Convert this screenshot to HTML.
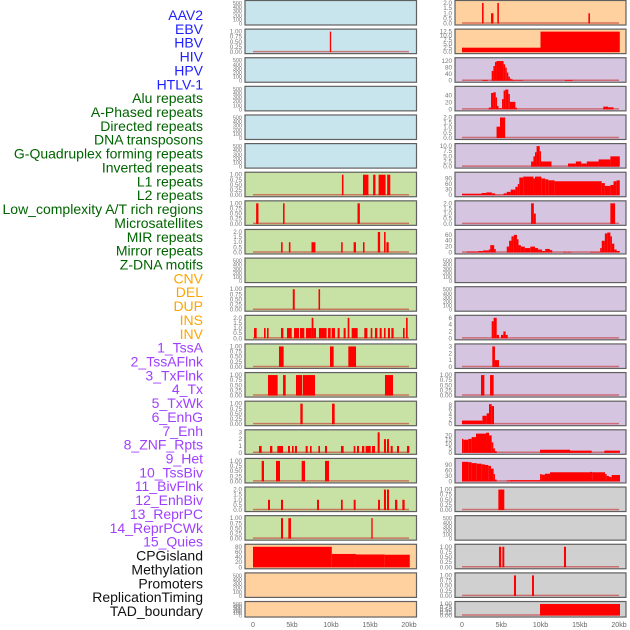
<!DOCTYPE html>
<html><head><meta charset="utf-8"><style>
html,body{margin:0;padding:0;background:#fff;}
svg{display:block;font-family:"Liberation Sans",sans-serif;}
</style></head><body>
<svg id="chart" width="630" height="630" viewBox="0 0 630 630" xmlns="http://www.w3.org/2000/svg">
<g id="labels"></g>
<g id="panels"></g>
<g id="xaxes"></g>
</svg>
<script>
const trackLabels = ["AAV2","EBV","HBV","HIV","HPV","HTLV-1","Alu repeats","A-Phased repeats","Directed repeats","DNA transposons","G-Quadruplex forming repeats","Inverted repeats","L1 repeats","L2 repeats","Low_complexity A/T rich regions","Microsatellites","MIR repeats","Mirror repeats","Z-DNA motifs","CNV","DEL","DUP","INS","INV","1_TssA","2_TssAFlnk","3_TxFlnk","4_Tx","5_TxWk","6_EnhG","7_Enh","8_ZNF_Rpts","9_Het","10_TssBiv","11_BivFlnk","12_EnhBiv","13_ReprPC","14_ReprPCWk","15_Quies","CPGisland","Methylation","Promoters","ReplicationTiming","TAD_boundary"];
const labelGroups = [6,13,5,15,5];
const xTickValues = [0,5,10,15,20];
const xTickLabels = ["0","5kb","10kb","15kb","20kb"];

// bars: [startKb, endKb, value]
const L1bars = [[9.85,10.0,1]];
const L6bars = [[11.4,11.6,1],[14.1,14.8,1],[15.4,15.7,1],[16.1,17.0,1],[17.2,17.6,1]];
const L7bars = [[0.4,0.7,1],[3.85,4.05,1],[13.4,13.7,1]];
const L8bars = [[3.6,3.8,1],[4.6,4.8,1],[7.5,8.0,1],[11.3,11.5,1],[12.9,13.2,1],[14.1,14.3,1],[17.1,17.4,1],[16.0,16.3,2],[16.8,17.0,2]];
const L10bars = [[5.1,5.35,1],[8.4,8.6,1]];
const L11bars = [[0.13,0.47,1],[1.41,1.62,1],[1.79,2.0,1],[3.59,3.89,1],[4.36,4.96,1],[5.26,5.9,1],[6.03,6.58,1],[6.79,7.52,1],[7.52,7.74,2],[7.74,8.08,1],[8.46,9.44,1],[9.62,9.96,1],[10.09,10.51,1],[10.85,11.11,1],[11.62,11.88,1],[12.14,12.35,2],[12.65,13.42,1],[14.27,14.66,1],[15.09,15.3,1],[15.64,15.94,1],[16.24,16.5,1],[16.79,17.0,1],[17.3,17.56,1],[17.74,18.03,1],[19.23,19.44,1],[19.62,19.83,2]];
const L12bars = [[3.33,3.93,1],[9.87,10.34,1],[12.22,13.21,1]];
const L13bars = [[1.92,3.16,1],[3.85,4.19,1],[5.51,6.32,1],[6.41,7.95,1],[16.92,17.95,1]];
const L14bars = [[6.07,6.37,1],[10.13,10.47,1]];
const L15bars = [[0.77,1.11,1],[2.18,2.48,1],[3.12,3.85,1],[4.49,4.74,1],[5.0,5.21,1],[5.38,5.64,1],[6.75,7.01,1],[7.31,7.52,1],[8.38,8.59,1],[9.23,9.49,1],[11.28,11.62,1],[12.91,13.12,1],[13.33,13.59,1],[13.97,14.27,1],[14.44,15.09,1],[15.26,15.64,1],[17.65,17.91,1],[18.46,18.72,1],[19.74,20.04,1],[15.98,16.24,3],[16.79,17.05,2],[17.18,17.44,2]];
const L16bars = [[1.11,1.41,1],[2.95,3.46,1],[6.24,6.67,1],[9.23,9.74,1]];
const L17bars = [[1.92,2.18,1],[3.59,3.85,1],[8.21,8.46,1],[11.28,11.5,1],[12.91,13.16,1],[16.03,16.28,1],[18.21,18.5,1],[19.15,19.44,1],[16.79,17.05,2],[17.18,17.44,2]];
const L18bars = [[3.59,3.85,1],[4.53,4.87,1],[15.17,15.34,1]];
const L19bars = [[0,10.1,80],[10.1,13.2,52],[13.2,16.9,50],[16.9,20.1,49]];

const R0bars = [[2.55,2.75,2],[3.7,4.0,1],[4.5,4.7,2],[16.1,16.3,1]];
const R1bars = [[0,10,2.7],[10,20.1,12.5]];
const R2bars = [[2.6,3.3,5],[3.78,4.0,60],[4.0,4.2,90],[4.2,4.4,115],[4.4,5.3,120],[5.3,5.5,100],[5.5,5.7,80],[5.7,5.9,50],[5.9,6.1,25],[6.1,6.3,12],[6.3,6.5,8],[6.5,7.8,3],[13.1,14.1,5]];
const R3bars = [[3.4,3.7,5],[3.7,4.0,48],[4.0,4.3,50],[4.3,4.45,35],[4.45,4.65,10],[4.65,5.1,3],[5.1,5.3,30],[5.3,5.5,55],[5.5,5.9,58],[5.9,6.1,45],[6.1,6.8,22],[6.8,7.0,5],[18.0,18.6,8],[18.6,19.3,6]];
const R4bars = [[4.4,4.84,1.1],[4.84,5.5,2]];
const R5bars = [[8.8,9.1,2.5],[9.1,9.3,5],[9.3,9.5,7],[9.5,9.9,10],[9.9,10.06,7.5],[10.06,11.4,2.5],[13.5,14.5,1.5],[14.5,15.2,2.5],[15.2,15.9,1.5],[15.9,17.4,2.5],[17.4,18.9,3.5],[18.9,20.1,5]];
const R6bars = [[0,2.5,8],[2.5,3.1,12],[3.1,3.8,15],[3.8,4.2,10],[4.2,5.3,2],[5.3,5.7,10],[5.7,6.2,18],[6.2,6.8,30],[6.8,7.1,45],[7.1,7.3,60],[7.3,7.8,95],[7.8,9.1,100],[9.1,9.3,90],[9.3,10.1,100],[10.1,10.6,90],[10.6,11.0,85],[11.0,11.8,80],[11.8,17.8,75],[17.8,18.2,65],[18.2,18.9,50],[18.9,19.3,55],[19.3,19.7,75],[19.7,20.1,80]];
const R7bars = [[8.8,9.15,2],[9.15,9.4,1],[18.9,19.5,2]];
const R8bars = [[0.6,2.1,3],[2.1,2.7,5],[2.7,3.4,7],[3.4,3.6,10],[3.6,4.1,25],[4.1,4.3,12],[5.7,6.0,20],[6.0,6.3,40],[6.3,6.6,55],[6.6,7.0,60],[7.0,7.2,45],[7.2,7.5,25],[7.5,8.0,20],[8.0,8.7,15],[8.7,9.3,20],[9.3,9.7,15],[9.7,10.2,10],[10.2,10.6,5],[10.6,11.2,12],[11.2,11.5,8],[12.9,13.3,2],[13.4,13.9,2],[16.3,17.6,2],[17.6,17.8,15],[17.8,18.2,40],[18.2,18.5,65],[18.5,18.9,68],[18.9,19.1,55],[19.1,19.4,30],[19.4,19.7,10],[19.7,20.1,5]];
const R11bars = [[3.78,4.03,5],[4.03,4.42,6],[4.42,4.71,1],[4.97,5.27,1],[5.27,5.56,2],[5.56,5.82,1]];
const R12bars = [[3.86,4.2,3],[4.2,4.71,1]];
const R13bars = [[2.42,2.85,1],[3.57,4.03,1]];
const R14bars = [[0,2.6,1.5],[2.6,3.14,3.5],[3.14,3.44,4.5],[3.44,3.78,8.3],[3.78,4.08,7.5]];
const R15bars = [[0,0.17,16],[0.17,0.81,15],[0.81,1.23,16],[1.23,1.78,18],[1.78,3.06,22],[3.06,3.44,23],[3.44,3.78,20],[3.78,3.99,12],[3.99,4.2,5],[4.2,4.42,2],[9.94,13.76,3.5],[13.76,16.52,2.5],[18.13,20.13,2.5]];
const R16bars = [[0,0.81,107],[0.81,1.23,105],[1.23,1.87,100],[1.87,2.5,97],[2.5,2.93,93],[2.93,3.35,90],[3.35,3.69,85],[3.69,4.03,70],[4.03,4.2,40],[4.2,4.42,10],[5.69,6.11,5],[6.11,9.94,7],[9.94,10.15,40],[10.15,10.57,37],[10.57,11.21,42],[11.21,16.31,50],[16.31,16.6,52],[16.6,18.22,50],[18.22,18.43,40],[18.43,18.73,30],[18.73,19.07,25],[19.07,20.13,35]];
const R17bars = [[4.63,5.39,1]];
const R19bars = [[4.71,5.0,1],[5.14,5.39,1],[12.99,13.25,1]];
const R20bars = [[6.62,6.88,1],[8.92,9.17,1]];
const R21bars = [[9.94,20.13,1]];

const tk500 = [0,100,200,300,400,500];
const tk1 = [0,0.25,0.5,0.75,1];
const tk2 = [0,0.5,1,1.5,2];

const C = {blue:"#c8e4ec",green:"#c8e1a5",peach:"#ffd19f",purple:"#d5c5e1",gray:"#d0d0d0"};
// [bars, ymax, ticks, color]
const leftPanels = [
 [null,500,tk500,C.blue],[L1bars,1,tk1,C.blue],[null,500,tk500,C.blue],[null,500,tk500,C.blue],[null,500,tk500,C.blue],[null,500,tk500,C.blue],
 [L6bars,1,tk1,C.green],[L7bars,1,tk1,C.green],[L8bars,2,tk2,C.green],[null,500,tk500,C.green],[L10bars,1,tk1,C.green],[L11bars,2,tk2,C.green],[L12bars,1,tk1,C.green],[L13bars,1,tk1,C.green],[L14bars,1,tk1,C.green],[L15bars,3,[0,1,2,3],C.green],[L16bars,1,tk1,C.green],[L17bars,2,tk2,C.green],[L18bars,1,tk1,C.green],
 [L19bars,80,[0,20,40,60,80],C.peach],[null,500,tk500,C.peach],[null,500,tk500,C.peach]
];
const rightPanels = [
 [R0bars,2,tk2,C.peach],[R1bars,12.5,[0,2.5,5,7.5,10,12.5],C.peach],
 [R2bars,125,[0,40,80,120],C.purple],[R3bars,60,[0,20,40],C.purple],[R4bars,2,tk2,C.purple],[R5bars,10,[0,2.5,5,7.5,10],C.purple],[R6bars,110,[0,30,60,90],C.purple],[R7bars,2,tk2,C.purple],[R8bars,70,[0,20,40,60],C.purple],[null,500,tk500,C.purple],[null,500,tk500,C.purple],[R11bars,6,[0,2,4,6],C.purple],[R12bars,3,[0,1,2,3],C.purple],[R13bars,1,tk1,C.purple],[R14bars,8.5,[0,2,4,6,8],C.purple],[R15bars,23.5,[0,5,10,15,20],C.purple],[R16bars,112,[0,30,60,90],C.purple],
 [R17bars,1,tk1,C.gray],[null,500,tk500,C.gray],[R19bars,1,tk1,C.gray],[R20bars,1,tk1,C.gray],[R21bars,1,tk1,C.gray]
];

const NS="http://www.w3.org/2000/svg";
function mk(tag, attrs, parent){const e=document.createElementNS(NS,tag);for(const k in attrs)e.setAttribute(k,attrs[k]);parent.appendChild(e);return e;}
const labelColors=["#1f1fff","#006400","#ffa500","#a040ff","#111111"];
const gL=document.getElementById('labels');
let idx=0;
labelGroups.forEach((n,g)=>{for(let j=0;j<n;j++){const t=mk('text',{x:203,y:20+13.86*idx,'text-anchor':'end','font-size':14,fill:labelColors[g]},gL);


t.textContent=trackLabels[idx];idx++;}});

const cols=[{x0:245,x1:416.5,z:253,s:7.8,panels:leftPanels,name:'left'},{x0:455,x1:626,z:462,s:7.85,panels:rightPanels,name:'right'}];
const gP=document.getElementById('panels');
function fmt(v,ticks){
 let dec=0;
 if(ticks.some(t=>Math.abs(t*10-Math.round(t*10))>1e-9))dec=2;
 else if(ticks.some(t=>Math.abs(t-Math.round(t))>1e-9))dec=1;
 return dec?v.toFixed(dec):String(v);}
cols.forEach(col=>{
 const xs=kb=>col.z+kb*col.s;
 col.panels.forEach((p,i)=>{
  const top=i*28.62+0.5, h=(i===21?15.5:24.5);
  const [bars,ymax,ticks,color]=p;
  const y0=top+h-1.5, yt=top+2.5;
  const ys=v=>y0-(v/ymax)*(y0-yt);
  const g=mk('g',{},gP);
  
  
  mk('rect',{x:col.x0,y:top,width:col.x1-col.x0,height:h,fill:color,stroke:'#606060','stroke-width':1.2},g);
  ticks.forEach(t=>{const tx=mk('text',{x:col.x0-3,y:ys(t)+2,'text-anchor':'end','font-size':(ymax===500?5.5:6.3),fill:'#777'},g);
   
   
   tx.textContent=fmt(t,ticks);});
  if(bars){
   mk('line',{x1:xs(0),x2:xs(20),y1:y0-0.5,y2:y0-0.5,stroke:'#c83030','stroke-width':1.5,'stroke-opacity':0.6},g);
   bars.forEach(b=>{const x=xs(b[0]),w=Math.max(1.3,xs(b[1])-xs(b[0]));const r=mk('rect',{x:x,y:ys(b[2]),width:w,height:y0-ys(b[2]),fill:'#ff0000'},g);
    
    });
  }
 });
 const gx=document.getElementById('xaxes');
 xTickValues.forEach((v,k)=>{const t=mk('text',{x:xs(v),y:627,'text-anchor':'middle','font-size':7,fill:'#666'},gx);
  
  
  t.textContent=xTickLabels[k];});
});
</script>
</body></html>
